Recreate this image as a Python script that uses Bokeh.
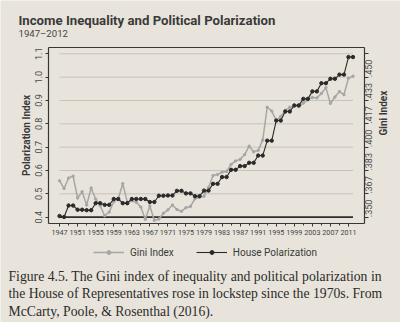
import math
from bokeh.plotting import figure
from bokeh.models import Range1d, LinearAxis, FixedTicker, Label, Legend, LegendItem
from bokeh.embed import file_html
from bokeh.resources import INLINE

# ---------------- data ----------------
years = list(range(1947, 2013))

house_polarization = [
    0.405, 0.401, 0.450, 0.450, 0.432, 0.432, 0.430, 0.430, 0.460, 0.460,
    0.453, 0.453, 0.478, 0.478, 0.460, 0.460, 0.478, 0.478, 0.478, 0.478,
    0.465, 0.465, 0.492, 0.492, 0.493, 0.493, 0.513, 0.513, 0.502, 0.502,
    0.490, 0.490, 0.514, 0.514, 0.543, 0.543, 0.572, 0.572, 0.603, 0.603,
    0.619, 0.619, 0.633, 0.633, 0.664, 0.664, 0.728, 0.728, 0.814, 0.814,
    0.853, 0.853, 0.879, 0.879, 0.907, 0.907, 0.939, 0.939, 0.974, 0.974,
    0.993, 0.993, 1.011, 1.011, 1.086, 1.086,
]

gini_index = [
    0.3760, 0.3705, 0.3780, 0.3793, 0.3637, 0.3682, 0.3587, 0.3708, 0.3630, 0.3582,
    0.3510, 0.3537, 0.3610, 0.3630, 0.3740, 0.3608, 0.3617, 0.3607, 0.3572, 0.3485,
    0.3580, 0.3477, 0.3487, 0.3528, 0.3552, 0.3587, 0.3555, 0.3542, 0.3568, 0.3577,
    0.3632, 0.3643, 0.3650, 0.3712, 0.3797, 0.3805, 0.3822, 0.3827, 0.3877, 0.3902,
    0.3913, 0.3947, 0.4007, 0.3967, 0.3977, 0.4050, 0.4285, 0.4258, 0.4190, 0.4220,
    0.4262, 0.4285, 0.4293, 0.4290, 0.4315, 0.4338, 0.4355, 0.4352, 0.4383, 0.4425,
    0.4312, 0.4358, 0.4397, 0.4375, 0.4492, 0.4507,
]

x_tick_years = list(range(1947, 2012, 4))
x_minor_years = list(range(1947, 2013, 2))
pol_ticks = [0.4, 0.5, 0.6, 0.7, 0.8, 0.9, 1.0, 1.1]
pol_tick_labels = ["0.4", "0.5", "0.6", "0.7", "0.8", "0.9", "1.0", "1.1"]
gini_ticks = [0.350, 0.3667, 0.3833, 0.400, 0.4167, 0.4333, 0.450, 0.4667]
gini_tick_labels = [".350", ".367", ".383", ".400", ".417", ".433", ".450", ""]

title_text = "Income Inequality and Political Polarization"
subtitle_text = "1947\u20132012"
left_title = "Polarization Index"
right_title = "Gini Index"
series_names = ["Gini Index", "House Polarization"]
caption_lines = [
    "Figure 4.5. The Gini index of inequality and political polarization in",
    "the House of Representatives rose in lockstep since the 1970s. From",
    "McCarty, Poole, & Rosenthal (2016).",
]

# ---------------- style / geometry ----------------
BG = "#e8e4db"
INK = "#363636"
GRID = "#c6c3bb"
GRAY_LINE = "#a6a6a4"
FONT = "Roboto"
SERIF = "Liberation Serif"

W, H = 400, 322
BOX_L, BOX_R, BOX_T, BOX_B = 48, 364, 47, 223     # plot box in pixels
x_lo, x_hi = 1944.55, 2014.55                       # plot box in data units
y_lo, y_hi = 0.373, 1.127


def to_gini(v):
    return 0.35 + (v - 0.4) / 6.0


kx = (BOX_R - BOX_L) / (x_hi - x_lo)
ky = (BOX_B - BOX_T) / (y_hi - y_lo)
xr = Range1d(x_lo - BOX_L / kx, x_hi + (W - BOX_R) / kx)
yr = Range1d(y_lo - (H - BOX_B) / ky, y_hi + BOX_T / ky)

p = figure(width=W, height=H, output_backend="svg", toolbar_location=None,
           x_range=xr, y_range=yr,
           min_border=0, min_border_left=0, min_border_right=0,
           min_border_top=0, min_border_bottom=0,
           background_fill_color=BG, border_fill_color=BG,
           outline_line_color=None)
p.extra_y_ranges = {"gini": Range1d(to_gini(yr.start), to_gini(yr.end))}
p.xgrid.visible = False
p.ygrid.visible = False

# bottom axis
xa = p.xaxis[0]
xa.fixed_location = y_lo
xa.bounds = (x_lo, x_hi)
xa.ticker = FixedTicker(ticks=x_tick_years, minor_ticks=x_minor_years)
xa.major_label_text_font = FONT
xa.major_label_text_font_size = "7.2px"
xa.major_label_text_color = "#444444"
xa.major_tick_in = 0
xa.major_tick_out = 3
xa.minor_tick_in = 0
xa.minor_tick_out = 2
xa.major_label_standoff = 3
xa.axis_line_color = INK
xa.axis_line_width = 1.2
xa.major_tick_line_color = INK
xa.minor_tick_line_color = INK

# left axis
ya = p.yaxis[0]
ya.fixed_location = x_lo
ya.bounds = (y_lo, y_hi)
ya.ticker = FixedTicker(ticks=pol_ticks)
ya.major_label_overrides = dict(zip(pol_ticks, pol_tick_labels))
ya.major_label_orientation = "vertical"
ya.major_label_text_font = FONT
ya.major_label_text_font_size = "9px"
ya.major_label_text_color = "#4a4a4a"
ya.major_tick_in = 0
ya.major_tick_out = 3
ya.minor_tick_line_color = None
ya.major_label_standoff = 3
ya.axis_line_color = INK
ya.axis_line_width = 1.2
ya.major_tick_line_color = INK
ya.axis_label = left_title
ya.axis_label_text_font = FONT
ya.axis_label_text_font_style = "bold"
ya.axis_label_text_font_size = "10px"
ya.axis_label_text_color = "#3a3a3a"
ya.axis_label_standoff = 1

# right axis (Gini)
ra = LinearAxis(y_range_name="gini", ticker=FixedTicker(ticks=gini_ticks),
                fixed_location=x_hi, bounds=(to_gini(y_lo), to_gini(y_hi)))
ra.major_label_overrides = dict(zip(gini_ticks, gini_tick_labels))
ra.major_label_orientation = math.pi / 2
ra.major_label_text_font = FONT
ra.major_label_text_font_size = "9px"
ra.major_label_text_color = "#4a4a4a"
ra.major_tick_in = 0
ra.major_tick_out = 4
ra.minor_tick_line_color = None
ra.major_label_standoff = 0
ra.axis_line_color = INK
ra.axis_line_width = 1.2
ra.major_tick_line_color = INK
ra.axis_label = right_title
ra.axis_label_text_font = FONT
ra.axis_label_text_font_style = "bold"
ra.axis_label_text_font_size = "10px"
ra.axis_label_text_color = "#3a3a3a"
ra.axis_label_standoff = 5
if hasattr(ra, "axis_label_orientation"):
    ra.axis_label_orientation = math.pi / 2
p.add_layout(ra, "right")

# top edge of the plot box (axis line only)
ta = LinearAxis(ticker=FixedTicker(ticks=[]), fixed_location=y_hi, bounds=(x_lo, x_hi),
                major_tick_line_color=None, minor_tick_line_color=None,
                major_label_text_color=None, axis_line_color=INK, axis_line_width=1.2)
p.add_layout(ta, "above")

# grid lines spanning only the data years
p.segment(x0=years[0], y0=pol_ticks[1:], x1=years[-1], y1=pol_ticks[1:],
          line_color=GRID, line_width=1)
p.segment(x0=years[0], y0=pol_ticks[0], x1=years[-1], y1=pol_ticks[0],
          line_color="#2e2e2e", line_width=1.8)

gl = p.line(years, gini_index, y_range_name="gini", line_color=GRAY_LINE, line_width=1.5)
gs = p.scatter(years, gini_index, y_range_name="gini", size=2.4, color=GRAY_LINE)
hl = p.line(years, house_polarization, line_color="#2a2a2a", line_width=1.1)
hs = p.scatter(years, house_polarization, size=3.4, color="#2a2a2a")

legend = Legend(items=[LegendItem(label=series_names[0], renderers=[gl, gs]),
                       LegendItem(label=series_names[1], renderers=[hl, hs])],
                location=(93, H - 257.5), orientation="horizontal",
                background_fill_alpha=0, border_line_alpha=0,
                label_text_font=FONT, label_text_font_size="10px",
                label_text_color="#3a3a3a",
                glyph_width=31, glyph_height=10,
                label_standoff=6, spacing=22, padding=0, margin=0)
p.add_layout(legend)

# texts (screen units: pixels from the canvas' lower-left corner)
p.add_layout(Label(x=18, y=H - 19.5, x_units="screen", y_units="screen",
                   text=title_text, text_font=FONT, text_font_style="bold",
                   text_font_size="13.2px", text_color="#3a3a3a",
                   text_baseline="alphabetic"))
p.add_layout(Label(x=18, y=H - 33, x_units="screen", y_units="screen",
                   text=subtitle_text, text_font=FONT, text_font_size="9.6px",
                   text_color="#444444", text_baseline="alphabetic"))
for i, line in enumerate(caption_lines):
    p.add_layout(Label(x=8, y=H - 275.5 - 17.5 * i, x_units="screen", y_units="screen",
                       text=line, text_font=SERIF, text_font_size="13.7px",
                       text_color="#2b2b2b", text_baseline="alphabetic"))

open("out.html", "w").write(file_html(p, INLINE))
